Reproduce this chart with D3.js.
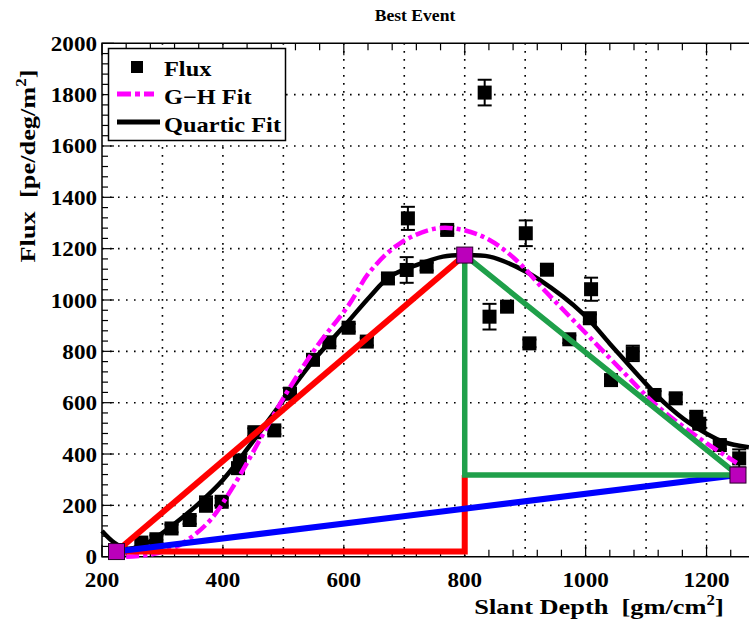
<!DOCTYPE html>
<html>
<head>
<meta charset="utf-8">
<script src="https://cdn.jsdelivr.net/npm/d3@7"></script>
<style>
  html, body { margin: 0; padding: 0; background: #fff; }
  svg { display: block; }
  text { font-family: "Liberation Serif", "Times New Roman", serif; font-weight: bold; fill: #000; white-space: pre; }
</style>
</head>
<body>
<div id="chart"></div>
<script>
// ---------------- DATA ----------------
const title = "Best Event";
const xTickLabels = [200, 400, 600, 800, 1000, 1200];
const yTickLabels = [0, 200, 400, 600, 800, 1000, 1200, 1400, 1600, 1800, 2000];
const xGrid = [300, 400, 500, 600, 700, 800, 900, 1000, 1100, 1200];
const yGrid = [200, 400, 600, 800, 1000, 1200, 1400, 1600, 1800];

// Flux measurements: slant depth, flux, error
const depth = [265, 290, 315, 345, 372, 398, 425, 428, 452, 485, 511, 549, 576, 608, 638, 673, 704, 706, 737, 771, 833, 841, 870, 901, 907, 936, 973, 1007, 1009, 1042, 1078, 1114, 1149, 1183, 1188, 1222, 1254];
const flux  = [55, 68, 110, 143, 205, 214, 345, 375, 485, 492, 635, 767, 835, 892, 838, 1084, 1117, 1318, 1130, 1273, 1808, 935, 974, 1260, 831, 1118, 847, 929, 1042, 688, 792, 630, 617, 545, 518, 435, 383];
const fluxErr = [15, 15, 15, 15, 30, 15, 15, 15, 15, 15, 15, 15, 15, 15, 15, 15, 50, 45, 15, 15, 50, 50, 15, 50, 15, 15, 15, 15, 45, 15, 30, 15, 15, 15, 15, 15, 35];

// Quartic fit
const quarticX = [200, 220, 240, 260, 280, 320, 360, 400, 450, 500, 550, 605, 643, 676, 720, 764, 797, 841, 885, 924, 995, 1040, 1089, 1130, 1172, 1227, 1270];
const quarticY = [100, 55, 32, 38, 60, 128, 207, 299, 450, 610, 765, 910, 1013, 1091, 1136, 1169, 1175, 1169, 1130, 1078, 948, 830, 701, 600, 520, 448, 426];

// Gaisser-Hillas fit
const ghX = [240, 280, 320, 350, 380, 417, 461, 505, 555, 608, 643, 693, 753, 797, 841, 885, 935, 990, 1062, 1117, 1188, 1250];
const ghY = [0, 8, 35, 80, 145, 273, 455, 637, 818, 980, 1110, 1221, 1279, 1273, 1234, 1156, 1030, 896, 720, 590, 462, 365];

// Triangle construction points
const startPt = [224, 20];
const peakPt = [800, 1175];
const endPt = [1252, 318];

// ---------------- CHART ----------------
const W = 749, H = 624;
const svg = d3.select("#chart").append("svg").attr("width", W).attr("height", H);

const x = d3.scaleLinear().domain([200, 1300]).range([102, 767]);
const y = d3.scaleLinear().domain([0, 2000]).range([556.7, 43.3]);

function label(g, px, py, size, sx, anchor, rot) {
  return g.append("text")
    .attr("transform", `translate(${px},${py})` + (rot ? ` rotate(${rot})` : "") + ` scale(${sx},1)`)
    .attr("font-size", size)
    .attr("text-anchor", anchor || "start");
}

// grid
const grid = svg.append("g").attr("stroke", "#000").attr("stroke-width", 1.6).attr("stroke-dasharray", "1.6,6.4");
grid.selectAll("line.gx").data(xGrid).join("line")
  .attr("x1", d => x(d)).attr("x2", d => x(d)).attr("y1", y(0)).attr("y2", y(2000));
grid.selectAll("line.gy").data(yGrid).join("line")
  .attr("x1", x(200)).attr("x2", x(1300)).attr("y1", d => y(d)).attr("y2", d => y(d));

// ticks
const ticks = svg.append("g").attr("stroke", "#000").attr("stroke-width", 1.2);
const xMinor = d3.range(200, 1300, 40);
ticks.selectAll("line.xb").data(xMinor).join("line")
  .attr("x1", d => x(d)).attr("x2", d => x(d))
  .attr("y1", y(0)).attr("y2", d => y(0) - (d % 200 === 0 ? 12 : 7));
ticks.selectAll("line.xt").data(xMinor).join("line")
  .attr("x1", d => x(d)).attr("x2", d => x(d))
  .attr("y1", y(2000)).attr("y2", d => y(2000) + (d % 200 === 0 ? 12 : 7));
const yMinor = d3.range(0, 2001, 40);
ticks.selectAll("line.yl").data(yMinor).join("line")
  .attr("y1", d => y(d)).attr("y2", d => y(d))
  .attr("x1", x(200)).attr("x2", d => x(200) + (d % 200 === 0 ? 12 : 6));

// frame
svg.append("path")
  .attr("d", `M${x(1300)},${y(2000)} H${x(200)} V${y(0)} H${x(1300)}`)
  .attr("fill", "none").attr("stroke", "#000").attr("stroke-width", 1.5);

// data points with error bars
const pts = depth.map((d, i) => ({ x: d, y: flux[i], e: fluxErr[i] }));
const pg = svg.append("g");
pg.selectAll("line.eb").data(pts).join("line")
  .attr("x1", d => x(d.x)).attr("x2", d => x(d.x))
  .attr("y1", d => y(d.y - d.e)).attr("y2", d => y(d.y + d.e))
  .attr("stroke", "#000").attr("stroke-width", 2);
pg.selectAll("line.cap1").data(pts).join("line")
  .attr("x1", d => x(d.x) - 7).attr("x2", d => x(d.x) + 7)
  .attr("y1", d => y(d.y + d.e)).attr("y2", d => y(d.y + d.e))
  .attr("stroke", "#000").attr("stroke-width", 2);
pg.selectAll("line.cap2").data(pts).join("line")
  .attr("x1", d => x(d.x) - 7).attr("x2", d => x(d.x) + 7)
  .attr("y1", d => y(d.y - d.e)).attr("y2", d => y(d.y - d.e))
  .attr("stroke", "#000").attr("stroke-width", 2);
pg.selectAll("rect").data(pts).join("rect")
  .attr("x", d => x(d.x) - 7).attr("y", d => y(d.y) - 7)
  .attr("width", 14).attr("height", 14).attr("fill", "#000");

// fits
const line = d3.line().x(d => x(d[0])).y(d => y(d[1])).curve(d3.curveCatmullRom.alpha(0.5));
svg.append("path").datum(quarticX.map((d, i) => [d, quarticY[i]]))
  .attr("d", line).attr("fill", "none").attr("stroke", "#000").attr("stroke-width", 4.5);
svg.append("path").datum(ghX.map((d, i) => [d, ghY[i]]))
  .attr("d", line).attr("fill", "none").attr("stroke", "#ff00ff").attr("stroke-width", 4.5)
  .attr("stroke-dasharray", "13,4,4,4");

// triangle lines
const seg = d3.line().x(d => x(d[0])).y(d => y(d[1]));
svg.append("path").datum([startPt, peakPt]).attr("d", seg)
  .attr("fill", "none").attr("stroke", "#ff0000").attr("stroke-width", 6);
svg.append("path").datum([startPt, [peakPt[0], startPt[1]], [peakPt[0], endPt[1]]]).attr("d", seg)
  .attr("fill", "none").attr("stroke", "#ff0000").attr("stroke-width", 6);
svg.append("path").datum([startPt, endPt]).attr("d", seg)
  .attr("fill", "none").attr("stroke", "#0000ff").attr("stroke-width", 6);
svg.append("path").datum([peakPt, [peakPt[0], endPt[1]], endPt, peakPt]).attr("d", seg)
  .attr("fill", "none").attr("stroke", "#1fa04a").attr("stroke-width", 5.5).attr("stroke-linejoin", "miter");

svg.selectAll("rect.mk").data([startPt, peakPt, endPt]).join("rect")
  .attr("class", "mk")
  .attr("x", d => x(d[0]) - 8).attr("y", d => y(d[1]) - 8)
  .attr("width", 16).attr("height", 16)
  .attr("fill", "#bb00bb").attr("stroke", "#2a002a").attr("stroke-width", 1);

// tick labels
const tl = svg.append("g");
xTickLabels.forEach(v => { label(tl, x(v), 587, 22, 1.05, "middle").text(v); });
yTickLabels.forEach(v => { label(tl, 97, y(v) + 7.5, 22, 1.05, "end").text(v); });

// title
label(svg, 415, 21, 16, 1.1, "middle").text(title);

// axis titles
const xt = label(svg, 599, 614, 22, 1.2, "middle");
xt.append("tspan").text("Slant Depth  [gm/cm");
xt.append("tspan").attr("font-size", 14).attr("dy", -9).text("2");
xt.append("tspan").attr("dy", 9).text("]");

const yt = label(svg, 35, 166, 22, 1.2, "middle", -90);
yt.append("tspan").text("Flux  [pe/deg/m");
yt.append("tspan").attr("font-size", 14).attr("dy", -9).text("2");
yt.append("tspan").attr("dy", 9).text("]");

// legend
const lg = svg.append("g");
lg.append("rect").attr("x", 108.5).attr("y", 48.5).attr("width", 177).attr("height", 92)
  .attr("fill", "#fff").attr("stroke", "#000").attr("stroke-width", 1.5);
lg.append("rect").attr("x", 131).attr("y", 61).attr("width", 12).attr("height", 12).attr("fill", "#000");
label(lg, 164, 76, 21, 1.16).text("Flux");
lg.append("line").attr("x1", 117).attr("x2", 154).attr("y1", 94).attr("y2", 94)
  .attr("stroke", "#ff00ff").attr("stroke-width", 5).attr("stroke-dasharray", "14,4,5,4");
label(lg, 164, 104, 21, 1.16).text("G\u2212H Fit");
lg.append("line").attr("x1", 117).attr("x2", 160).attr("y1", 122).attr("y2", 122)
  .attr("stroke", "#000").attr("stroke-width", 5);
label(lg, 164, 132, 21, 1.16).text("Quartic Fit");
</script>
</body>
</html>
